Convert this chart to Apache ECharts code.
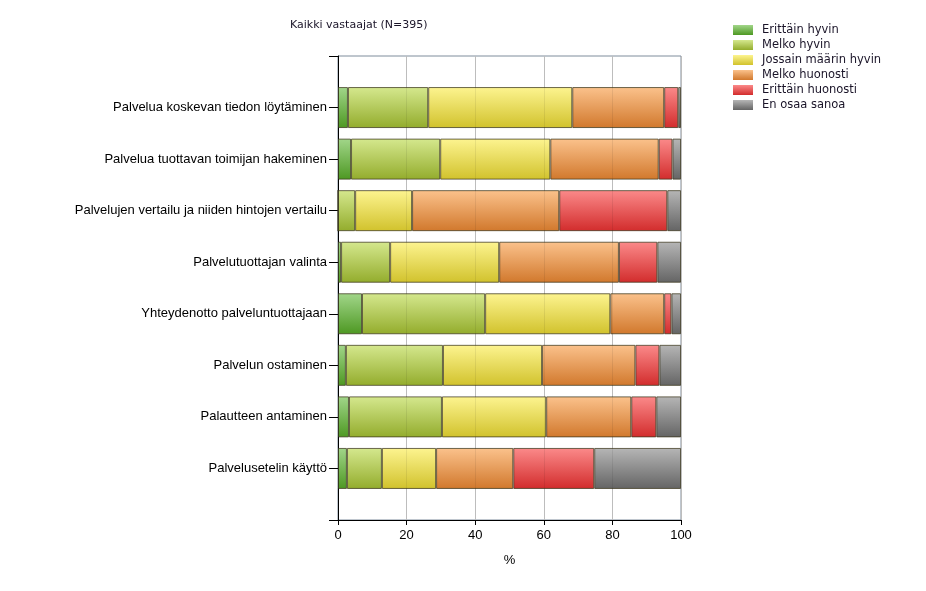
<!DOCTYPE html>
<html>
<head>
<meta charset="utf-8">
<script src="https://cdn.jsdelivr.net/npm/echarts@6/dist/echarts.min.js"></script>
<style>
  html, body { margin: 0; padding: 0; background: #fff; }
  #chart { width: 926px; height: 591px; }
</style>
</head>
<body>
<div id="chart"></div>
<script>
// kysymykset (ylhäältä alas)
var categories = [
  'Palvelua koskevan tiedon löytäminen',
  'Palvelua tuottavan toimijan hakeminen',
  'Palvelujen vertailu ja niiden hintojen vertailu',
  'Palvelutuottajan valinta',
  'Yhteydenotto palveluntuottajaan',
  'Palvelun ostaminen',
  'Palautteen antaminen',
  'Palvelusetelin käyttö'
];

// vastausten osuudet, %
var erittainHyvin    = [2.9, 3.8, 0,    0.9,  7.0,  2.3,  3.2,  2.6];
var melkoHyvin       = [23.4, 26.0, 5.0, 14.3, 35.9, 28.3, 27.1, 10.2];
var jossainMaarin    = [42.0, 32.1, 16.6, 31.8, 36.5, 28.9, 30.4, 15.8];
var melkoHuonosti    = [26.8, 31.6, 42.9, 34.9, 15.7, 27.2, 24.8, 22.5];
var erittainHuonosti = [4.1, 4.0, 31.5, 11.2, 2.1, 7.0, 7.3, 23.6];
var enOsaa           = [0.8, 2.5, 4.0, 6.9, 2.8, 6.3, 7.2, 25.3];

var seriesNames = ['Erittäin hyvin', 'Melko hyvin', 'Jossain määrin hyvin', 'Melko huonosti', 'Erittäin huonosti', 'En osaa sanoa'];
var seriesData = [erittainHyvin, melkoHyvin, jossainMaarin, melkoHuonosti, erittainHuonosti, enOsaa];
var xTicks = [0, 20, 40, 60, 80, 100];

// värit: ylä- ja alasävy
var colorPairs = [
  ['#a2d68a', '#4d9822'],
  ['#d5e88e', '#93ac2c'],
  ['#fdf490', '#d1c22c'],
  ['#fbc28c', '#d1782c'],
  ['#fb8a8a', '#d22c2c'],
  ['#b6b6b6', '#646464']
];

var myChart = echarts.init(document.getElementById('chart'));

// tyhjä paikka akselin kumpaankin päähän
var yCats = [''].concat(categories).concat(['']);

var series = seriesNames.map(function (name, i) {
  return {
    name: name,
    type: 'bar',
    stack: 'total',
    barWidth: 41,
    data: [null].concat(seriesData[i]).concat([null]),
    itemStyle: {
      color: new echarts.graphic.LinearGradient(0, 0, 0, 1, [
        { offset: 0, color: colorPairs[i][0] },
        { offset: 1, color: colorPairs[i][1] }
      ]),
      borderColor: 'rgba(60,55,30,0.75)',
      borderWidth: 1
    },
    emphasis: { disabled: true }
  };
});

var option = {
  animation: false,
  title: {
    text: 'Kaikki vastaajat (N=395)',
    left: 285,
    top: 15,
    textStyle: {
      fontFamily: 'DejaVu Sans',
      fontSize: 11,
      fontWeight: 'normal',
      color: '#1a1428'
    }
  },
  legend: {
    orient: 'vertical',
    left: 728,
    top: 19,
    itemWidth: 20,
    itemHeight: 10,
    itemGap: 3,
    icon: 'rect',
    data: seriesNames,
    itemStyle: { borderWidth: 0 },
    textStyle: {
      fontFamily: 'DejaVu Sans',
      fontSize: 11.5,
      lineHeight: 12,
      padding: [0, 0, 0, 4],
      color: '#1a1428'
    }
  },
  grid: {
    left: 338,
    right: 245,
    top: 56,
    bottom: 71,
    show: true,
    borderColor: '#7f8d9c',
    borderWidth: 1
  },
  xAxis: [{
    type: 'value',
    min: 0,
    max: 100,
    interval: 20,
    name: '%',
    nameLocation: 'middle',
    nameGap: 34,
    nameTextStyle: { fontFamily: 'Liberation Sans', fontSize: 13, color: '#000' },
    axisLine: { show: true, lineStyle: { color: '#000' } },
    axisTick: { show: true, length: 5, lineStyle: { color: '#000' } },
    axisLabel: {
      fontFamily: 'Liberation Sans',
      fontSize: 13,
      color: '#000',
      margin: 9,
      formatter: function (v) { return xTicks.indexOf(v) >= 0 ? String(v) : ''; }
    },
    splitLine: { show: true, lineStyle: { color: '#cccccc' } }
  }, {
    // himmeät ruudukkoviivat palkkien päällä
    type: 'value',
    min: 0,
    max: 100,
    interval: 20,
    position: 'bottom',
    z: 5,
    axisLine: { show: false },
    axisTick: { show: false },
    axisLabel: { show: false },
    splitLine: { show: true, lineStyle: { color: 'rgba(0,0,0,0.07)' } }
  }],
  yAxis: {
    type: 'category',
    data: yCats,
    inverse: true,
    boundaryGap: false,
    axisLine: { show: true, lineStyle: { color: '#000' } },
    axisTick: { show: true, length: 9, lineStyle: { color: '#000' } },
    axisLabel: {
      fontFamily: 'Liberation Sans',
      fontSize: 13,
      color: '#000',
      margin: 11,
      interval: 0
    },
    splitLine: { show: false }
  },
  series: series
};

myChart.setOption(option);
</script>
</body>
</html>
